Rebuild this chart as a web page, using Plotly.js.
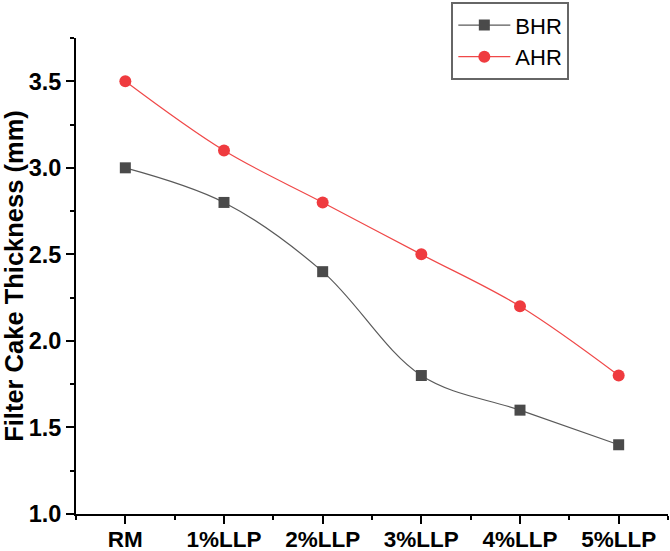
<!DOCTYPE html>
<html>
<head>
<meta charset="utf-8">
<script src="https://cdn.plot.ly/plotly-3.0.1.min.js"></script>
<style>
  html, body { margin: 0; padding: 0; background: #fff; }
  #chart { width: 670px; height: 551px; }
</style>
</head>
<body>
<div id="chart"></div>
<script>
const categories = ['RM', '1%LLP', '2%LLP', '3%LLP', '4%LLP', '5%LLP'];
const bhr = [3.0, 2.8, 2.4, 1.8, 1.6, 1.4];
const ahr = [3.5, 3.1, 2.8, 2.5, 2.2, 1.8];
const xPos = categories.map((c, i) => i);

const traces = [
    {
        x: xPos, y: bhr, name: 'BHR', type: 'scatter', mode: 'lines+markers',
        line: {color: '#5a5a5a', width: 1.2, shape: 'spline', smoothing: 1},
        marker: {symbol: 'square', size: 11, color: '#4a4a4a'}
    },
    {
        x: xPos, y: ahr, name: 'AHR', type: 'scatter', mode: 'lines+markers',
        line: {color: '#f04848', width: 1.2, shape: 'spline', smoothing: 1},
        marker: {symbol: 'circle', size: 12, color: '#ef3b3f'}
    }
];

const fontFam = 'Liberation Sans, Arial, sans-serif';

const layout = {
    width: 670, height: 551,
    margin: {l: 76, r: 2, t: 36, b: 37},
    paper_bgcolor: '#fff', plot_bgcolor: '#fff',
    showlegend: true,
    legend: {
        x: 0.634, y: 1.075, xanchor: 'left', yanchor: 'top',
        bordercolor: '#666', borderwidth: 2, bgcolor: '#fff',
        font: {family: fontFam, size: 22, color: '#000'},
        itemwidth: 52, tracegroupgap: 0
    },
    xaxis: {
        type: 'linear', range: [-0.5, 5.5],
        tickvals: xPos, ticktext: categories,
        showgrid: false, zeroline: false,
        showline: true, linecolor: '#000', linewidth: 2,
        ticks: 'outside', ticklen: 8, tickwidth: 2, tickcolor: '#000',
        minor: {dtick: 0.5, tick0: -0.5, ticks: 'outside', ticklen: 4, tickwidth: 2, tickcolor: '#000', showgrid: false},
        tickfont: {family: fontFam, size: 22.5, color: '#000', weight: 'bold'},
        ticklabelstandoff: -4
    },
    yaxis: {
        range: [1.0, 3.75],
        tickvals: [1.0, 1.5, 2.0, 2.5, 3.0, 3.5],
        ticktext: ['1.0', '1.5', '2.0', '2.5', '3.0', '3.5'],
        showgrid: false, zeroline: false,
        showline: true, linecolor: '#000', linewidth: 2,
        ticks: 'outside', ticklen: 8, tickwidth: 2, tickcolor: '#000',
        minor: {dtick: 0.25, tick0: 1.0, ticks: 'outside', ticklen: 4, tickwidth: 2, tickcolor: '#000', showgrid: false},
        tickfont: {family: fontFam, size: 23.5, color: '#000', weight: 'bold'},
        title: {text: 'Filter Cake Thickness (mm)', standoff: 6,
            font: {family: fontFam, size: 25.5, color: '#000', weight: 'bold'}}
    }
};

Plotly.newPlot('chart', traces, layout, {displayModeBar: false, staticPlot: true});
</script>
</body>
</html>
